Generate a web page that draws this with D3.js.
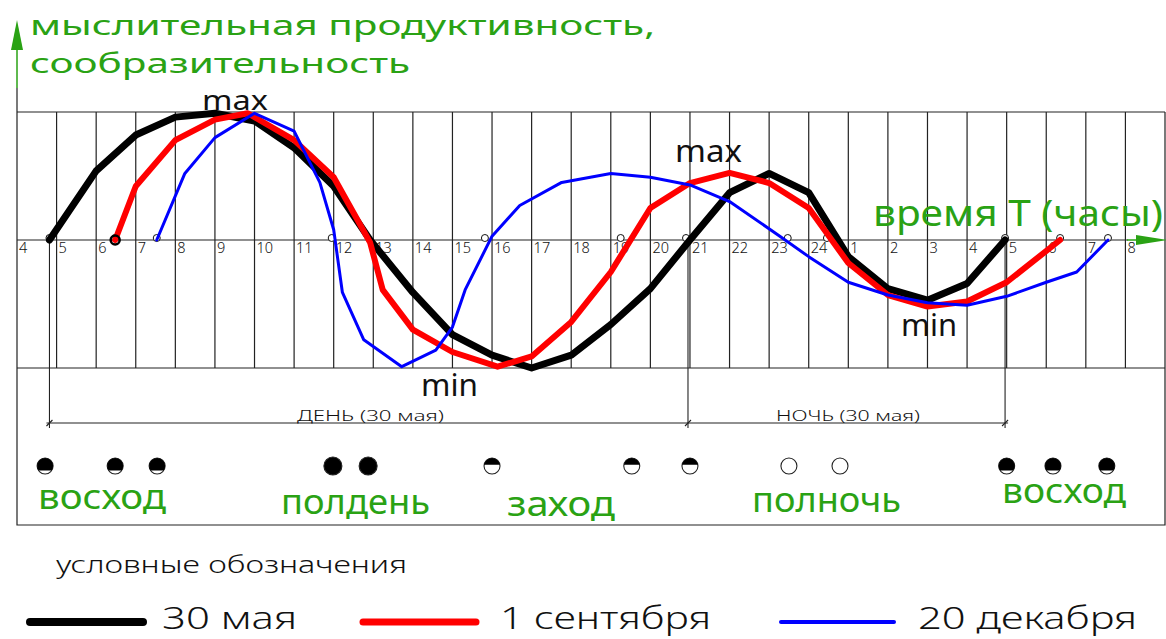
<!DOCTYPE html>
<html lang="ru">
<head>
<meta charset="UTF-8">
<title>Мыслительная продуктивность</title>
<script src="https://cdnjs.cloudflare.com/ajax/libs/d3/7.8.5/d3.min.js"></script>
<style>
    body { margin: 0; background: #fff; }
    svg { display: block; font-family: 'Noto Sans', 'DejaVu Sans', sans-serif; }
</style>
</head>
<body>
<svg id="chart" width="1166" height="639"></svg>
<script>
// ------------------------------------------------------------------
// Data (hours past midnight of 30 May; next-day hours run past 24)
// ------------------------------------------------------------------
const hourTicks = d3.range(4, 33);
const hourLabels = hourTicks.map(h => String(h > 24 ? h - 24 : h));

const may30Hours  = [4.82, 6, 7, 8, 9, 10, 11, 12, 12.92, 14, 15, 16, 17, 18, 19, 20, 21, 22, 23, 24, 25, 26, 27, 28, 28.96];
const may30Values = [0, 0.54, 0.82, 0.96, 0.99, 0.93, 0.72, 0.42, 0, -0.41, -0.74, -0.90, -1.0, -0.90, -0.66, -0.38, 0, 0.37, 0.52, 0.37, -0.13, -0.38, -0.47, -0.34, 0];

const sep1Hours  = [6.48, 7, 8, 9, 9.83, 11, 12, 12.92, 13.24, 14, 15, 16.14, 17, 18, 19, 20, 21, 22, 23, 24, 25, 26, 27, 28, 29, 30.35];
const sep1Values = [0, 0.42, 0.78, 0.94, 0.99, 0.78, 0.49, -0.02, -0.39, -0.70, -0.875, -0.99, -0.91, -0.64, -0.25, 0.25, 0.445, 0.525, 0.445, 0.25, -0.18, -0.43, -0.52, -0.48, -0.33, 0];

const dec20Hours  = [7.53, 8.24, 9, 10, 11, 11.65, 12, 12.22, 12.76, 13.72, 14.58, 15, 15.32, 16, 16.7, 17.76, 19, 20, 21, 22, 23.27, 24, 25, 26, 27, 28, 29, 30, 30.77, 31.56];
const dec20Values = [0, 0.52, 0.80, 0.99, 0.85, 0.45, 0.08, -0.41, -0.78, -0.99, -0.86, -0.68, -0.39, 0.03, 0.27, 0.45, 0.52, 0.49, 0.43, 0.30, 0.03, -0.13, -0.33, -0.43, -0.49, -0.51, -0.44, -0.33, -0.25, 0];

const seriesNames = ["30 мая", "1 сентября", "20 декабря"];

// sun events: sunrise / noon / sunset / midnight for the three dates
const axisMarkHours = [4.82, 6.48, 7.53, 11.95, 15.82, 19.25, 20.9, 23.47, 24.46, 28.96, 30.35, 31.56];
const sunHours = [4.71, 6.48, 7.54, 11.98, 12.87, 16.0, 19.53, 21.0, 23.5, 24.79, 29.0, 30.17, 31.53];
const sunKinds = ["rise", "rise", "rise", "noon", "noon", "set", "set", "set", "night", "night", "rise", "rise", "rise"];

const titleLines = ["мыслительная продуктивность,", "сообразительность"];
const phaseNames = ["восход", "полдень", "заход", "полночь", "восход"];
const periodNames = ["ДЕНЬ (30 мая)", "НОЧЬ (30 мая)"];
const periodBounds = [[4.82, 20.95], [20.95, 28.96]];

// ------------------------------------------------------------------
// Setup
// ------------------------------------------------------------------
const GREEN = "#2aa214";
const GRID = "#222";
const svg = d3.select("#chart");

const x = d3.scaleLinear().domain([4, 33]).range([17, 1165]);
const y = d3.scaleLinear().domain([-1, 1]).range([368, 112]);

const fitText = (sel, len) => sel.attr("textLength", len).attr("lengthAdjust", "spacingAndGlyphs");

// ------------------------------------------------------------------
// Grid and frame
// ------------------------------------------------------------------
const grid = svg.append("g").attr("stroke", GRID).attr("stroke-width", 1.2);

grid.selectAll("line.hour").data(d3.range(5, 33)).join("line")
    .attr("x1", d => x(d)).attr("x2", d => x(d))
    .attr("y1", y(1)).attr("y2", y(-1));

[1, -1].forEach(v => grid.append("line")
    .attr("x1", x(4)).attr("x2", x(33)).attr("y1", y(v)).attr("y2", y(v)));

// outer frame
grid.append("path").attr("fill", "none")
    .attr("d", `M${x(4)},88 V525 H${x(33)} V${y(1)}`);

// axis line
grid.append("line").attr("x1", x(4)).attr("x2", 1128).attr("y1", y(0)).attr("y2", y(0));

// green arrows
svg.append("line").attr("x1", x(4)).attr("x2", x(4)).attr("y1", 88).attr("y2", 45)
    .attr("stroke", GREEN).attr("stroke-width", 1.5);
svg.append("path").attr("fill", GREEN)
    .attr("d", `M${x(4)},20 L${x(4) - 6},50 L${x(4) + 6},50 Z`);
svg.append("line").attr("x1", 1127).attr("x2", 1140).attr("y1", y(0)).attr("y2", y(0))
    .attr("stroke", GREEN).attr("stroke-width", 1.5);
svg.append("path").attr("fill", GREEN)
    .attr("d", `M1167,${y(0)} L1136,${y(0) - 5} L1136,${y(0) + 5} Z`);

// hour labels
svg.append("g").selectAll("text").data(hourTicks).join("text")
    .attr("x", d => x(d) + 2).attr("y", y(0) + 13)
    .attr("font-size", 14.5).attr("font-weight", 300).attr("fill", "#111")
    .text((d, i) => hourLabels[i]);

// ------------------------------------------------------------------
// Day / night dimension lines
// ------------------------------------------------------------------
const dim = svg.append("g").attr("stroke", GRID).attr("stroke-width", 1.1);
const dimY = 423;
[periodBounds[0][0], periodBounds[0][1], periodBounds[1][1]].forEach(h => {
    dim.append("line").attr("x1", x(h)).attr("x2", x(h)).attr("y1", y(0)).attr("y2", dimY + 5);
    dim.append("line").attr("x1", x(h) - 3).attr("x2", x(h) + 3).attr("y1", dimY + 3).attr("y2", dimY - 3);
});
dim.append("line").attr("x1", x(periodBounds[0][0]) - 3).attr("x2", x(periodBounds[1][1]) + 3)
    .attr("y1", dimY).attr("y2", dimY);

svg.append("g").selectAll("text").data(periodNames).join("text")
    .attr("x", (d, i) => i === 0 ? 297 : 776).attr("y", dimY - 2)
    .attr("font-size", 14).attr("font-weight", 300).attr("fill", "#111")
    .text(d => d)
    .each(function (d, i) { fitText(d3.select(this), i === 0 ? 147 : 144); });

// ------------------------------------------------------------------
// Axis markers (small circles) and curves
// ------------------------------------------------------------------
svg.append("g").selectAll("circle").data(axisMarkHours).join("circle")
    .attr("cx", d => x(d)).attr("cy", y(0) - 2).attr("r", 3.5)
    .attr("fill", "#fff").attr("stroke", "#111").attr("stroke-width", 1);

const line = d3.line().x(d => x(d[0])).y(d => y(d[1]));
const series = [
    { hours: may30Hours, values: may30Values, color: "#000", width: 7 },
    { hours: sep1Hours, values: sep1Values, color: "#ff0000", width: 6 },
    { hours: dec20Hours, values: dec20Values, color: "#0000ff", width: 3 }
];

svg.append("g").selectAll("path").data(series).join("path")
    .attr("fill", "none")
    .attr("stroke", d => d.color)
    .attr("stroke-width", d => d.width)
    .attr("stroke-linejoin", "round")
    .attr("stroke-linecap", "round")
    .attr("d", d => line(d.hours.map((h, i) => [h, d.values[i]])));

// start point of the September curve has a bold ring
svg.append("circle").attr("cx", x(sep1Hours[0])).attr("cy", y(0)).attr("r", 4.5)
    .attr("fill", "none").attr("stroke", "#000").attr("stroke-width", 2.5);

// ------------------------------------------------------------------
// Sun symbols
// ------------------------------------------------------------------
const sunFill = { rise: 0.78, noon: 1, set: 0.42, night: 0 };
const sunY = 466;
const segmentPath = (cx, cy, r, f) => {
    const dy = -r + 2 * r * f;
    const dx = Math.sqrt(Math.max(0, r * r - dy * dy));
    return `M${cx - dx},${cy + dy} A${r},${r} 0 ${f > 0.5 ? 1 : 0} 1 ${cx + dx},${cy + dy} Z`;
};
const suns = svg.append("g");
sunHours.forEach((h, i) => {
    const kind = sunKinds[i];
    const r = kind === "noon" ? 9 : 8;
    const cx = x(h);
    suns.append("circle").attr("cx", cx).attr("cy", sunY).attr("r", r)
        .attr("fill", kind === "noon" ? "#000" : "#fff").attr("stroke", "#222").attr("stroke-width", 1.1);
    if (kind === "rise" || kind === "set") {
        suns.append("path").attr("d", segmentPath(cx, sunY, r, sunFill[kind])).attr("fill", "#000");
    }
});

// ------------------------------------------------------------------
// Texts
// ------------------------------------------------------------------
const addText = (str, x0, base, size, len, color, weight) => {
    const t = svg.append("text").attr("x", x0).attr("y", base)
        .attr("font-size", size).attr("fill", color).attr("font-weight", weight || 400).text(str);
    fitText(t, len);
    return t;
};

// two-line y-axis title
addText(titleLines[0], 30, 35, 28, 625, GREEN);
addText(titleLines[1], 30, 73, 28, 380, GREEN);

addText("время T (часы)", 873, 226, 36, 290, GREEN);

addText("max", 202, 110, 27, 66, "#111");
addText("max", 675, 162, 30, 67, "#111");
addText("min", 421, 396, 30, 57, "#111");
addText("min", 901, 336, 30, 56, "#111");

const phaseX = [38, 281, 507, 752, 1002];
const phaseBase = [509, 514, 516, 512, 503];
const phaseLen = [128, 149, 108, 149, 124];
phaseNames.forEach((p, i) => addText(p, phaseX[i], phaseBase[i], 35, phaseLen[i], GREEN));

// ------------------------------------------------------------------
// Legend
// ------------------------------------------------------------------
addText("условные обозначения", 56, 573, 24, 351, "#111", 300);

const legendLineX = [30, 363, 781];
const legendTextX = [162, 500, 918];
const legendTextLen = [135, 211, 219];
series.forEach((s, i) => {
    svg.append("line").attr("x1", legendLineX[i]).attr("x2", legendLineX[i] + 113)
        .attr("y1", 622).attr("y2", 622)
        .attr("stroke", s.color).attr("stroke-width", s.width + 1).attr("stroke-linecap", "round");
    addText(seriesNames[i], legendTextX[i], 629, 32, legendTextLen[i], "#111", 300);
});
</script>
</body>
</html>
